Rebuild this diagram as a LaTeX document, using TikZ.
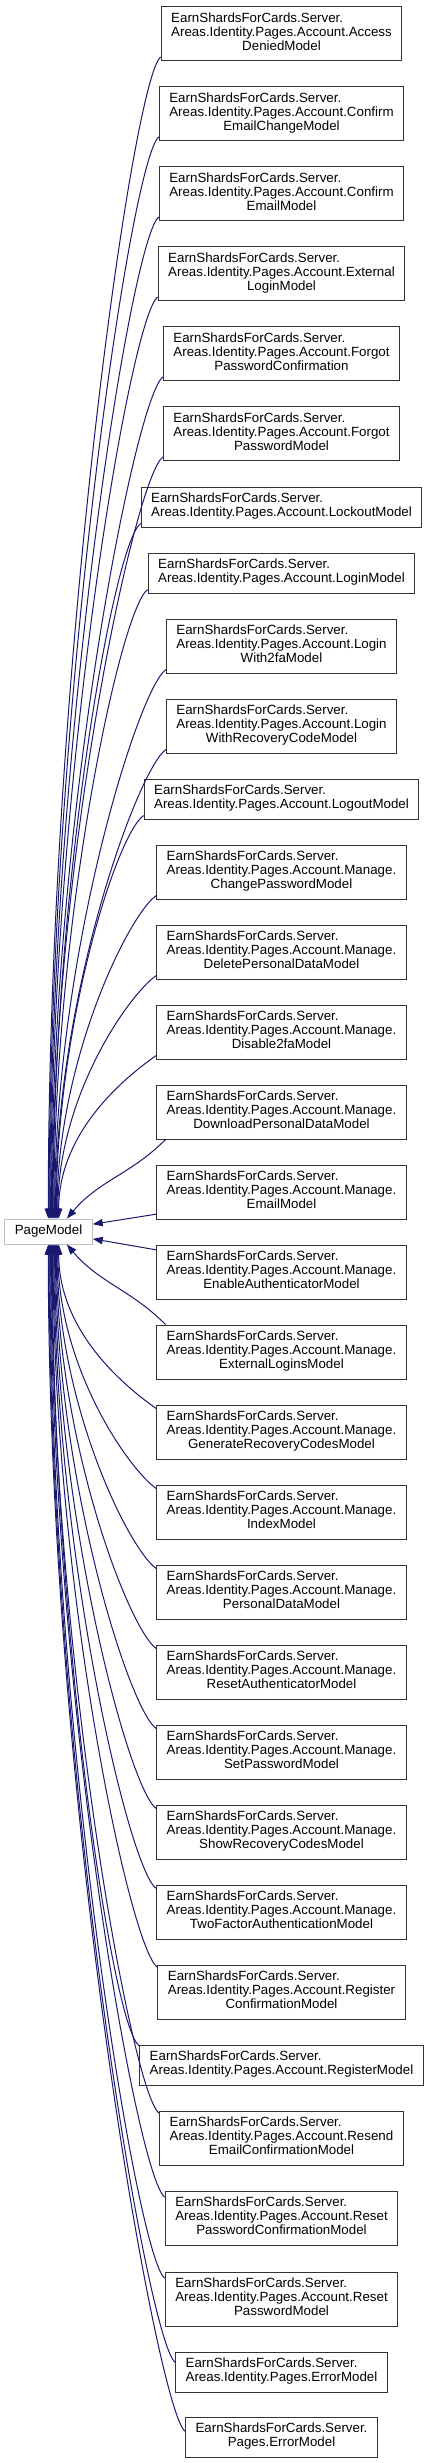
\documentclass[tikz,border=0pt]{standalone}
\usepackage{fontspec}
\setmainfont{Liberation Sans}
\usetikzlibrary{arrows.meta}
\definecolor{edgeBlue}{HTML}{191970}
\definecolor{pmGray}{HTML}{BFBFBF}
\newcommand{\cls}[2]{\begin{tabular}{@{}l@{}}#1\\\multicolumn{1}{@{}c@{}}{#2}\end{tabular}}

\begin{document}
\begin{tikzpicture}[x=0.75pt, y=-0.75pt,
    every node/.style={font=\fontsize{10}{10.5}\selectfont},
    clsbox/.style={draw=black!80, line width=0.75pt, fill=white, inner xsep=7.5pt, inner ysep=4.5pt},
    edge/.style={draw=edgeBlue, line width=0.75pt, -{Triangle[length=7.5pt,width=5.5pt]}}]
  \useasboundingbox (0,0) rectangle (428,2463);
  \node[draw=pmGray, line width=0.75pt, inner xsep=7.5pt, minimum height=18.75pt] (pm) at (48.5,1231.5) {PageModel};
  % derived classes
  \foreach \id/\y/\txa/\txb in {
      acc/33.5/{EarnShardsForCards.Server.\\Areas.Identity.Pages.Account.Access}/DeniedModel,
      cec/113.5/{EarnShardsForCards.Server.\\Areas.Identity.Pages.Account.Confirm}/EmailChangeModel,
      ce/193.5/{EarnShardsForCards.Server.\\Areas.Identity.Pages.Account.Confirm}/EmailModel,
      extl/273.5/{EarnShardsForCards.Server.\\Areas.Identity.Pages.Account.External}/LoginModel,
      fpc/353.5/{EarnShardsForCards.Server.\\Areas.Identity.Pages.Account.Forgot}/PasswordConfirmation,
      fp/433.5/{EarnShardsForCards.Server.\\Areas.Identity.Pages.Account.Forgot}/PasswordModel,
      lock/507/{EarnShardsForCards.Server.}/Areas.Identity.Pages.Account.LockoutModel,
      login/573/{EarnShardsForCards.Server.}/Areas.Identity.Pages.Account.LoginModel,
      ltfa/646/{EarnShardsForCards.Server.\\Areas.Identity.Pages.Account.Login}/With2faModel,
      lrc/726/{EarnShardsForCards.Server.\\Areas.Identity.Pages.Account.Login}/WithRecoveryCodeModel,
      logout/799/{EarnShardsForCards.Server.}/Areas.Identity.Pages.Account.LogoutModel,
      chpw/872/{EarnShardsForCards.Server.\\Areas.Identity.Pages.Account.Manage.}/ChangePasswordModel,
      delpd/952/{EarnShardsForCards.Server.\\Areas.Identity.Pages.Account.Manage.}/DeletePersonalDataModel,
      distfa/1032/{EarnShardsForCards.Server.\\Areas.Identity.Pages.Account.Manage.}/Disable2faModel,
      dlpd/1112/{EarnShardsForCards.Server.\\Areas.Identity.Pages.Account.Manage.}/DownloadPersonalDataModel,
      email/1192/{EarnShardsForCards.Server.\\Areas.Identity.Pages.Account.Manage.}/EmailModel,
      enauth/1272/{EarnShardsForCards.Server.\\Areas.Identity.Pages.Account.Manage.}/EnableAuthenticatorModel,
      extls/1352/{EarnShardsForCards.Server.\\Areas.Identity.Pages.Account.Manage.}/ExternalLoginsModel,
      genrc/1432/{EarnShardsForCards.Server.\\Areas.Identity.Pages.Account.Manage.}/GenerateRecoveryCodesModel,
      index/1512/{EarnShardsForCards.Server.\\Areas.Identity.Pages.Account.Manage.}/IndexModel,
      pd/1592/{EarnShardsForCards.Server.\\Areas.Identity.Pages.Account.Manage.}/PersonalDataModel,
      rstauth/1672/{EarnShardsForCards.Server.\\Areas.Identity.Pages.Account.Manage.}/ResetAuthenticatorModel,
      setpw/1752/{EarnShardsForCards.Server.\\Areas.Identity.Pages.Account.Manage.}/SetPasswordModel,
      showrc/1832/{EarnShardsForCards.Server.\\Areas.Identity.Pages.Account.Manage.}/ShowRecoveryCodesModel,
      tfa/1912/{EarnShardsForCards.Server.\\Areas.Identity.Pages.Account.Manage.}/TwoFactorAuthenticationModel,
      regc/1992/{EarnShardsForCards.Server.\\Areas.Identity.Pages.Account.Register}/ConfirmationModel,
      reg/2065/{EarnShardsForCards.Server.}/Areas.Identity.Pages.Account.RegisterModel,
      resend/2138/{EarnShardsForCards.Server.\\Areas.Identity.Pages.Account.Resend}/EmailConfirmationModel,
      rpc/2218/{EarnShardsForCards.Server.\\Areas.Identity.Pages.Account.Reset}/PasswordConfirmationModel,
      rp/2299/{EarnShardsForCards.Server.\\Areas.Identity.Pages.Account.Reset}/PasswordModel,
      aerr/2372/{EarnShardsForCards.Server.}/Areas.Identity.Pages.ErrorModel,
      perr/2437/{EarnShardsForCards.Server.}/Pages.ErrorModel} {
    \node[clsbox] (\id) at (281.5,\y) {\cls{\txa}{\txb}};
  }
  % inheritance arrows, upper half
  \foreach \id/\tx in {acc/33, cec/33.6, ce/34.2, extl/34.8, fpc/35.4, fp/36, lock/36.6,
                       login/37.2, ltfa/37.8, lrc/38.4, logout/39, chpw/39.6, delpd/40.2, distfa/40.8} {
    \draw[edge] ([yshift=3pt]\id.south west) to[out=215, in=90, out distance=25pt, in looseness=1.2] ([xshift=\tx pt]pm.north west);
  }
  \draw[edge] ([xshift=7pt]dlpd.south west) to[out=225, in=50] ([xshift=47pt]pm.north west);
  \draw[edge] ([yshift=4pt]email.south west) -- ([yshift=5.5pt]pm.east);
  \draw[edge] ([yshift=-4pt]enauth.north west) -- ([yshift=-5.5pt]pm.east);
  \draw[edge] ([xshift=7pt]extls.north west) to[out=135, in=-50] ([xshift=47pt]pm.south west);
  % inheritance arrows, lower half
  \foreach \id/\tx/\dy in {genrc/40.8/3, index/40.2/3, pd/39.6/3, rstauth/39/3, setpw/38.4/3, showrc/37.8/3,
                           tfa/37.2/3, regc/36.6/2, reg/36/1, resend/35.4/2, rpc/34.8/5, rp/34.2/5,
                           aerr/33.6/8, perr/33/11} {
    \draw[edge] ([yshift=-\dy pt]\id.north west) to[out=145, in=-90, out distance=25pt, in looseness=1.2] ([xshift=\tx pt]pm.south west);
  }
\end{tikzpicture}
\end{document}
